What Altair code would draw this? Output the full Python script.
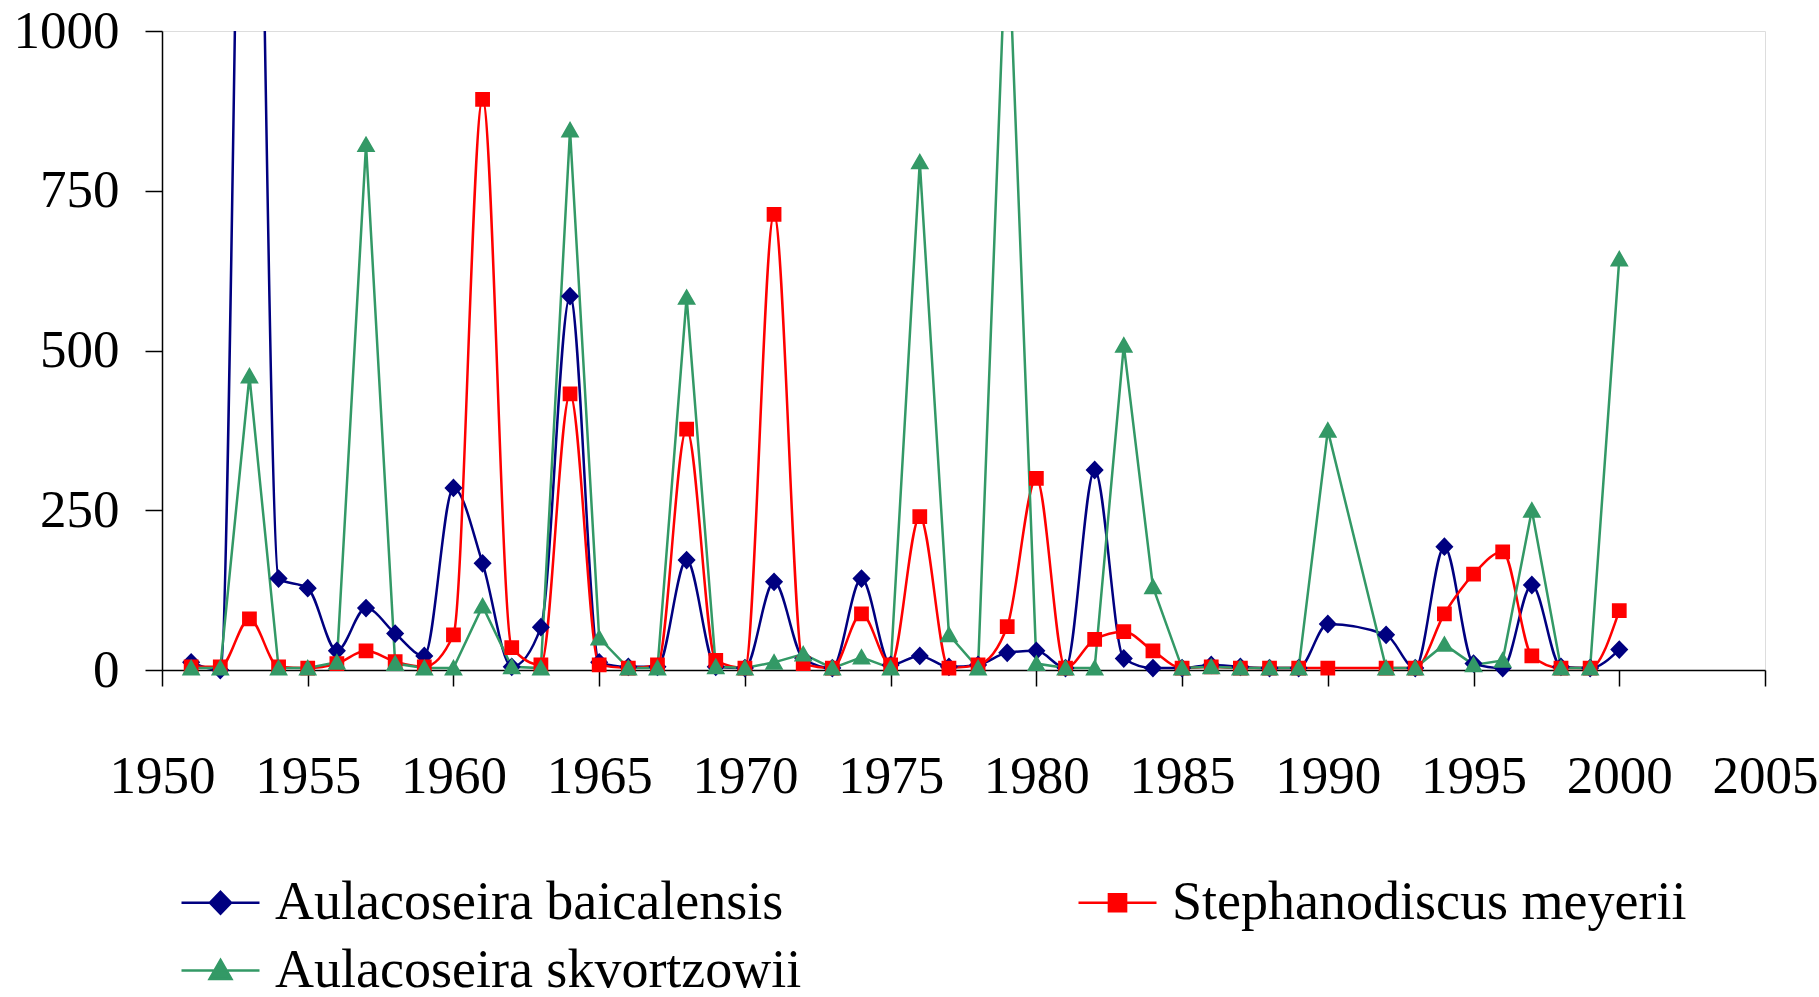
import altair as alt
import pandas as pd

years = list(range(1951, 1991)) + list(range(1992, 2001))

baicalensis = [12, 0, 2000, 143, 128, 30, 97, 57, 22, 285,
               167, 5, 67, 585, 12, 5, 5, 172, 5, 3,
               138, 18, 3, 143, 8, 22, 5, 8, 27, 30,
               3, 313, 18, 3, 3, 8, 5, 3, 3, 72,
               55, 3, 193, 10, 3, 133, 5, 3, 32]

meyerii = [5, 5, 80, 5, 3, 10, 30, 13, 5, 55,
           893, 35, 8, 432, 8, 3, 8, 377, 15, 3,
           713, 10, 3, 88, 8, 240, 3, 8, 68, 300,
           3, 48, 60, 30, 3, 5, 3, 3, 3, 3,
           3, 3, 88, 150, 185, 22, 3, 3, 93]

skvortzowii = [3, 3, 460, 3, 3, 12, 822, 10, 3, 3,
               100, 5, 3, 845, 50, 3, 3, 583, 5, 3,
               12, 25, 3, 20, 3, 795, 55, 3, 1200, 10,
               3, 3, 508, 130, 3, 5, 3, 3, 3, 375,
               3, 3, 40, 8, 15, 250, 3, 3, 643]

series_names = ["Aulacoseira baicalensis", "Stephanodiscus meyerii", "Aulacoseira skvortzowii"]
colors = ["#000080", "#FF0000", "#339966"]
shapes = [
    "M-1,0H1M0,-0.28L0.27,0L0,0.28L-0.27,0Z",
    "M-1,0H1M-0.22,-0.22H0.22V0.22H-0.22Z",
    "M-1,0H1M0,-0.27L0.28,0.22H-0.28Z",
]
x_ticks = list(range(1950, 2006, 5))
y_ticks = [0, 250, 500, 750, 1000]

rows = []
for name, vals in zip(series_names, [baicalensis, meyerii, skvortzowii]):
    for yr, v in zip(years, vals):
        rows.append({"year": yr, "value": v, "series": name})
df = pd.DataFrame(rows)

FONT = "Liberation Serif"

legend = alt.Legend(
    title=None, orient="none", legendX=18, legendY=831,
    direction="horizontal",
    columns=2, columnPadding=271, rowPadding=0,
    labelFont=FONT, labelFontSize=54, labelColor="black", labelLimit=0,
    symbolSize=6084, symbolStrokeWidth=2.5, labelOffset=14,
    symbolOpacity=1,
    symbolStrokeColor=alt.ExprRef("scale('color', datum.value)"),
)

x = alt.X("year:Q",
          scale=alt.Scale(domain=[1950, 2005], nice=False, zero=False),
          axis=alt.Axis(values=x_ticks, format="d", title=None, grid=False,
                        labelPadding=64, tickSize=16, labelFontSize=53,
                        labelFont=FONT, labelColor="black", labelOverlap=False,
                        labelFlush=False,
                        domainColor="black", tickColor="black",
                        domainWidth=1.5, tickWidth=1.5))
y = alt.Y("value:Q",
          scale=alt.Scale(domain=[0, 1000], nice=False),
          axis=alt.Axis(values=y_ticks, format="d", title=None, grid=False,
                        labelPadding=26, tickSize=17, labelFontSize=53,
                        labelFont=FONT, labelColor="black", labelOverlap=False,
                        labelFlush=False,
                        domainColor="black", tickColor="black",
                        domainWidth=1.5, tickWidth=1.5))
color = alt.Color("series:N", scale=alt.Scale(domain=series_names, range=colors), legend=legend)
shape = alt.Shape("series:N", scale=alt.Scale(domain=series_names, range=shapes), legend=legend)

base = alt.Chart(df)

smooth = base.transform_filter(
    alt.datum.series != "Aulacoseira skvortzowii"
).mark_line(interpolate="monotone", clip=True, strokeWidth=2.5).encode(x=x, y=y, color=color)

straight = base.transform_filter(
    alt.datum.series == "Aulacoseira skvortzowii"
).mark_line(clip=True, strokeWidth=2.5).encode(x=x, y=y, color=color)

points = base.transform_filter(
    alt.datum.value <= 1000
).mark_point(filled=True, size=4500, strokeWidth=0, opacity=1).encode(
    x=x, y=y, color=color, shape=shape
)

chart = alt.layer(smooth, straight, points).properties(
    width=1603, height=639,
    autosize="none",
    padding={"left": 162, "top": 31, "right": 54, "bottom": 327},
).configure_view(stroke=None).configure(background="white")

chart.save("out.html", embed_options={"renderer": "svg", "actions": False})
